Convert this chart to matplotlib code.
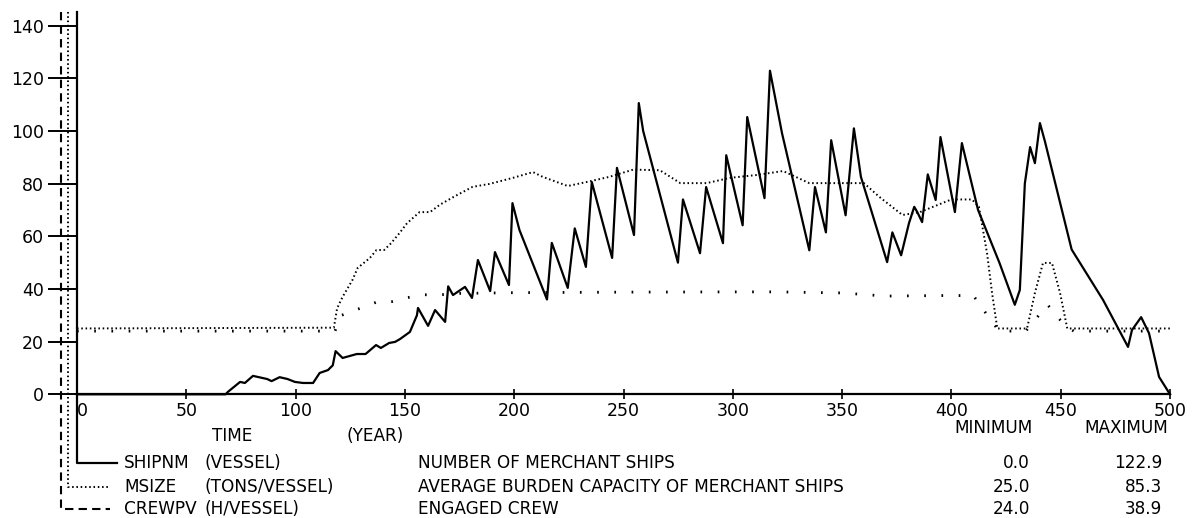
import matplotlib
matplotlib.use("Agg")
import matplotlib.pyplot as plt
from matplotlib.lines import Line2D

# SHIPNM - number of merchant ships (solid)
ship_t = [0, 68, 69, 74.6, 76.8, 80.5, 87, 89, 92.7, 96.3, 99.7, 103.4, 108, 111,
          114.8, 117, 118.3, 121.5, 128, 132, 136.8, 139, 142.8, 145.5, 147.8, 152.3,
          155.5, 156, 160.6, 163.8, 168.4, 169.8, 172, 177.5, 180.7, 183.4, 189, 191.2,
          197.6, 199.2, 202.4, 215, 217.2, 224.5, 227.7, 232.8, 235.5, 244.8, 247,
          254.8, 257, 259, 274.9, 277.2, 285, 287.8, 295.5, 297, 304.5, 306.6, 314.5,
          317, 322.5, 335, 337.6, 342.6, 345, 351.6, 355.4, 358.6, 370.6, 373, 377,
          380.6, 383, 384.4, 386.6, 389.2, 392.8, 395, 401.6, 404.8, 412.2, 422, 429,
          431.3, 433.6, 436, 438.2, 440.5, 442.8, 455, 469.4, 480.8, 482.6, 486.8,
          490.4, 495, 500]
ship_v = [0, 0, 0.9, 4.7, 4.3, 7, 5.8, 5, 6.5, 5.8, 4.7, 4.3, 4.3, 8.1,
          9.2, 11, 16.4, 13.8, 15.3, 15.3, 18.7, 17.6, 19.5, 19.9, 21, 23.7,
          30, 32.8, 26, 32, 27.5, 41, 37.7, 40.8, 36.6, 51, 39.2, 54,
          41.5, 72.6, 62.4, 36, 57.5, 40.4, 63, 48.4, 80.6, 51.8, 86,
          60.5, 110.6, 100, 50, 74, 53.6, 78.7, 57.4, 90.8, 64.2, 105.3, 74.5,
          122.9, 99.2, 54.7, 78.7, 61.5, 96.5, 68, 101, 82.6, 50.2, 61.5, 52.8,
          65, 71.2, 69.2, 65.4, 83.5, 73.8, 97.7, 69.2, 95.4, 70, 49.9, 34,
          39.6, 80.1, 93.9, 87.8, 103, 96, 55, 35.8, 18, 24.4, 29.3,
          23.2, 6.6, 0]

# MSIZE - average burden capacity (dense dots)
ms_t = [0, 117.5, 119, 121.5, 126, 128.4, 134, 137, 140.5, 143.7, 147.5, 151, 156.7,
        161.5, 166, 173, 181, 188.7, 199.4, 208.6, 213, 224.5, 233, 243.6, 254.3, 256,
        266.6, 276, 288, 298.7, 311, 323, 335, 345.5, 360, 367, 377.6, 385.6, 400,
        409.4, 412.6, 416.3, 418.6, 421, 434.6, 438.2, 441.9, 446, 449.7, 453, 500]
ms_v = [25, 25.3, 32.7, 37, 43.4, 48, 51.8, 54.8, 54.8, 57.4, 61.2, 65, 69.2,
        69.2, 72, 75.3, 78.8, 79.9, 82.2, 84.4, 82.6, 79.1, 80.6, 82.6, 85.3, 85.3,
        85.1, 80.2, 80.2, 82.2, 83.3, 84.8, 80.2, 80.2, 80.2, 75, 68.1, 69.2, 74,
        74, 71.2, 53.6, 38.5, 25, 25, 38.5, 49.9, 49.9, 38.5, 25, 25]

# CREWPV - engaged crew (sparse dots)
crew_t = [0, 118, 121, 129, 137, 144, 151, 159, 166, 175, 200, 250, 300, 320, 350,
          370, 395, 410, 414, 418, 422, 434, 440, 444, 448, 452, 456, 500]
crew_v = [24, 24, 30, 32.5, 35, 35.2, 36.7, 37.8, 37.8, 38.3, 38.6, 38.8, 38.9, 38.9,
          38.5, 37.3, 37.5, 37.5, 33, 28, 24, 24, 30, 34, 30, 26, 24, 24]

x_ticks = [0, 50, 100, 150, 200, 250, 300, 350, 400, 450, 500]
y_ticks = [0, 20, 40, 60, 80, 100, 120, 140]

var_names = ["SHIPNM", "MSIZE", "CREWPV"]
var_units = ["(VESSEL)", "(TONS/VESSEL)", "(H/VESSEL)"]
var_desc = ["NUMBER OF MERCHANT SHIPS",
            "AVERAGE BURDEN CAPACITY OF MERCHANT SHIPS",
            "ENGAGED CREW"]
var_min = ["0.0", "25.0", "24.0"]
var_max = ["122.9", "85.3", "38.9"]

plt.rcParams['font.family'] = ['DejaVu Sans']
W, H = 1193, 518
fig = plt.figure(figsize=(W / 100, H / 100), dpi=100)


def fx(px):
    return px / W


def fy(py):
    return 1 - py / H


x0, x1 = 77, 1170
y0, ytop = 394.3, 12
ppu = 2.633  # pixels per y unit
ax = fig.add_axes([fx(x0), fy(y0), (x1 - x0) / W, (y0 - ytop) / H])
ax.set_xlim(0, 500)
ax.set_ylim(0, (y0 - ytop) / ppu)

ax.plot(ship_t, ship_v, color='black', lw=1.6, clip_on=False)
ax.plot(ms_t, ms_v, color='black', lw=1.4, linestyle=(0, (0.8, 1.4)), clip_on=False)
ax.plot(crew_t, crew_v, color='black', lw=2.0, linestyle=(0, (0.6, 5.6)), clip_on=False)

for s in ['top', 'right']:
    ax.spines[s].set_visible(False)
for s in ['left', 'bottom']:
    ax.spines[s].set_linewidth(1.6)

ax.set_yticks(y_ticks)
ax.set_yticklabels([str(v) for v in y_ticks], fontsize=12.5)
ax.tick_params(axis='y', direction='out', length=21, width=1.4, pad=3)
ax.set_xticks(x_ticks)
ax.set_xticklabels([str(v) for v in x_ticks], fontsize=12.5)
ax.tick_params(axis='x', direction='inout', length=7, width=1.2, pad=2)
ax.get_xticklabels()[0].set_horizontalalignment('left')

# legend lead lines running down the left side
fig.add_artist(Line2D([fx(77), fx(77), fx(117)], [fy(y0), fy(463), fy(463)],
                      color='black', lw=1.6))
fig.add_artist(Line2D([fx(68), fx(68), fx(108)], [fy(12), fy(487), fy(487)],
                      color='black', lw=1.4, linestyle=(0, (0.8, 1.4))))
fig.add_artist(Line2D([fx(61), fx(61), fx(110)], [fy(12), fy(509), fy(509)],
                      color='black', lw=1.5, linestyle=(0, (4, 2.5))))

fs = 12.2
fig.text(fx(212), fy(436), "TIME", fontsize=fs, va='center')
fig.text(fx(347), fy(436), "(YEAR)", fontsize=fs, va='center')
fig.text(fx(954), fy(428), "MINIMUM", fontsize=fs, va='center')
fig.text(fx(1168), fy(428), "MAXIMUM", fontsize=fs, va='center', ha='right')

rows = [463, 487, 509]
for i, ry in enumerate(rows):
    fig.text(fx(124), fy(ry), var_names[i], fontsize=fs, va='center')
    fig.text(fx(205), fy(ry), var_units[i], fontsize=fs, va='center')
    fig.text(fx(418), fy(ry), var_desc[i], fontsize=fs, va='center')
    fig.text(fx(1030), fy(ry), var_min[i], fontsize=fs, va='center', ha='right')
    fig.text(fx(1162), fy(ry), var_max[i], fontsize=fs, va='center', ha='right')

fig.savefig("out.png", dpi=100)
